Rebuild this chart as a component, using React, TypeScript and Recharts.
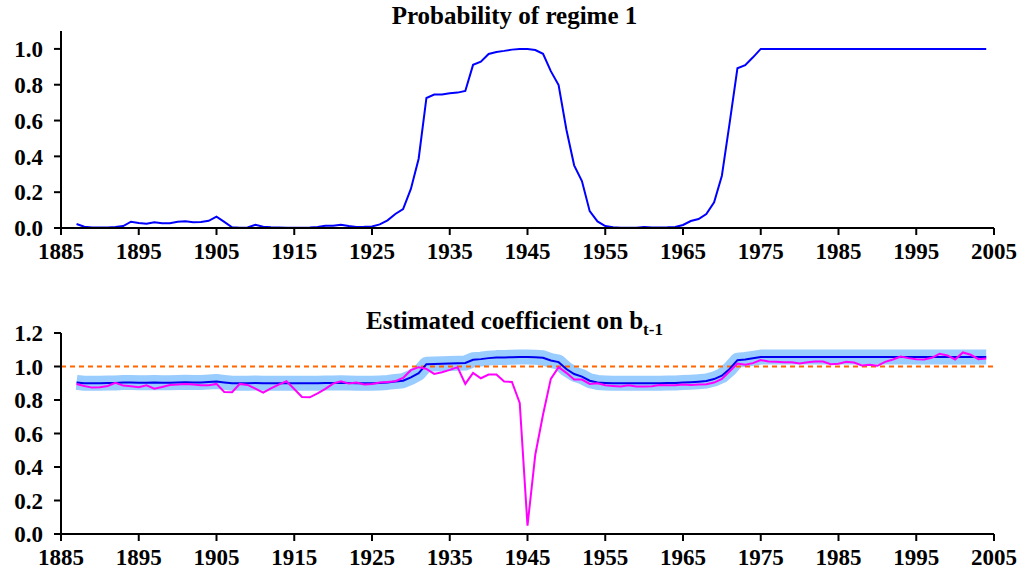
import React from "react";
import { LineChart, Line, XAxis, YAxis, ReferenceLine } from "recharts";

const FIRST_YEAR = 1887;

const YEAR_TICKS = [1885, 1895, 1905, 1915, 1925, 1935, 1945, 1955, 1965, 1975, 1985, 1995, 2005];
const PROB_TICKS = [0, 0.2, 0.4, 0.6, 0.8, 1.0];
const COEF_TICKS = [0, 0.2, 0.4, 0.6, 0.8, 1.0, 1.2];

// probability of regime 1, 1887-2004
const probRegime1 = [
  0.022, 0.007, 0.003, 0.003, 0.003, 0.005, 0.011, 0.035, 0.028, 0.024,
  0.032, 0.026, 0.026, 0.035, 0.037, 0.032, 0.034, 0.04, 0.063, 0.034,
  0.004, 0.002, 0.003, 0.018, 0.007, 0.004, 0.003, 0.002, 0.002, 0.002,
  0.003, 0.005, 0.013, 0.013, 0.018, 0.011, 0.006, 0.007, 0.009, 0.02,
  0.043, 0.078, 0.106, 0.218, 0.387, 0.726, 0.745, 0.745, 0.752, 0.756,
  0.765, 0.911, 0.929, 0.972, 0.983, 0.989, 0.996, 0.999, 0.999, 0.994,
  0.973, 0.876, 0.798, 0.55, 0.35, 0.262, 0.094, 0.037, 0.011, 0.004,
  0.002, 0.001, 0.002, 0.006, 0.003, 0.003, 0.004, 0.006, 0.017, 0.039,
  0.05, 0.078, 0.143, 0.292, 0.587, 0.892, 0.909, 0.953, 1.0, 1.0,
  1.0, 1.0, 1.0, 1.0, 1.0, 1.0, 1.0, 1.0, 1.0, 1.0,
  1.0, 1.0, 1.0, 1.0, 1.0, 1.0, 1.0, 1.0, 1.0, 1.0,
  1.0, 1.0, 1.0, 1.0, 1.0, 1.0, 1.0, 1.0,
];

// regime-weighted coefficient (blue line, drawn over the light band)
const coefSmoothed = [
  0.905, 0.9, 0.9, 0.9, 0.902, 0.902, 0.905, 0.905, 0.903, 0.903,
  0.905, 0.903, 0.903, 0.905, 0.906, 0.905, 0.905, 0.907, 0.91, 0.905,
  0.9, 0.9, 0.9, 0.902, 0.9, 0.9, 0.9, 0.9, 0.9, 0.9,
  0.9, 0.9, 0.902, 0.902, 0.903, 0.902, 0.9, 0.9, 0.9, 0.902,
  0.905, 0.91, 0.915, 0.935, 0.96, 1.014, 1.015, 1.016, 1.018, 1.02,
  1.021, 1.04, 1.044, 1.05, 1.053, 1.054, 1.055, 1.056, 1.056, 1.055,
  1.052, 1.036, 1.026, 0.985, 0.955, 0.94, 0.915, 0.905, 0.902, 0.9,
  0.9, 0.9, 0.9, 0.9, 0.9, 0.9, 0.901, 0.902, 0.904, 0.906,
  0.909, 0.913, 0.925, 0.945, 0.985, 1.038, 1.042, 1.049, 1.056, 1.056,
  1.056, 1.056, 1.056, 1.056, 1.056, 1.056, 1.056, 1.056, 1.056, 1.056,
  1.056, 1.056, 1.056, 1.056, 1.056, 1.056, 1.056, 1.056, 1.056, 1.056,
  1.056, 1.056, 1.056, 1.056, 1.056, 1.056, 1.056, 1.056,
];

// period-by-period estimate (magenta)
const coefPeriod = [
  0.896, 0.884, 0.874, 0.876, 0.884, 0.902, 0.886, 0.882, 0.876, 0.888,
  0.868, 0.878, 0.89, 0.892, 0.896, 0.892, 0.888, 0.888, 0.896, 0.848,
  0.846, 0.896, 0.89, 0.868, 0.844, 0.87, 0.892, 0.912, 0.866, 0.818,
  0.816, 0.84, 0.866, 0.898, 0.912, 0.898, 0.904, 0.892, 0.896, 0.904,
  0.908, 0.912, 0.932, 0.978, 0.996, 0.986, 0.956, 0.966, 0.98, 0.996,
  0.896, 0.962, 0.93, 0.952, 0.952, 0.91, 0.908, 0.782, 0.05, 0.473,
  0.713, 0.926, 0.996, 0.962, 0.922, 0.922, 0.896, 0.9, 0.888, 0.884,
  0.88, 0.888, 0.88, 0.88, 0.882, 0.89, 0.888, 0.888, 0.892, 0.89,
  0.892, 0.894, 0.904, 0.926, 0.972, 1.018, 1.01, 1.02, 1.038, 1.03,
  1.028, 1.026, 1.026, 1.018, 1.026, 1.03, 1.03, 1.014, 1.016, 1.028,
  1.024, 1.006, 1.01, 1.004, 1.028, 1.042, 1.06, 1.05, 1.044, 1.042,
  1.052, 1.076, 1.066, 1.042, 1.084, 1.07, 1.044, 1.048,
];

const rows = probRegime1.map((p, i) => ({
  year: FIRST_YEAR + i,
  prob: p,
  smooth: coefSmoothed[i],
  period: coefPeriod[i],
}));

const FONT = '"Liberation Serif", "Times New Roman", serif';
const tickStyle = { fontFamily: FONT, fontSize: 23, fontWeight: 700, fill: "#000" };
const axisLine = { stroke: "#000", strokeWidth: 2 };

const titleStyle: React.CSSProperties = {
  position: "absolute",
  left: 0,
  width: 1029,
  textAlign: "center",
  fontFamily: FONT,
  fontWeight: 700,
  fontSize: 25,
  lineHeight: "25px",
  color: "#000",
};

const fmt = (v: number) => v.toFixed(1);

const YearAxis = () => (
  <XAxis
    dataKey="year"
    type="number"
    domain={[1885, 2005]}
    ticks={YEAR_TICKS}
    tick={tickStyle}
    axisLine={axisLine}
    tickLine={axisLine}
    tickSize={7}
    tickMargin={8}
    height={40}
    interval={0}
  />
);

export default function App() {
  return (
    <div
      style={{
        position: "absolute",
        left: 0,
        top: 0,
        width: 1029,
        height: 576,
        background: "#fff",
        fontFamily: FONT,
      }}
    >
      <div style={{ ...titleStyle, top: 3 }}>Probability of regime 1</div>
      <div style={{ position: "absolute", left: 0, top: 0 }}>
        <LineChart width={1029} height={270} data={rows} margin={{ top: 31, right: 35, bottom: 2, left: 0 }}>
          {YearAxis()}
          <YAxis
            type="number"
            domain={[0, 1.1]}
            ticks={PROB_TICKS}
            tickFormatter={fmt}
            tick={tickStyle}
            axisLine={axisLine}
            tickLine={axisLine}
            tickSize={7}
            tickMargin={11}
            width={61}
          />
          <Line dataKey="prob" stroke="#0000ff" strokeWidth={2} dot={false} isAnimationActive={false} />
        </LineChart>
      </div>

      <div style={{ ...titleStyle, top: 308 }}>
        Estimated coefficient on b
        <sub style={{ fontSize: 17, verticalAlign: "-6px", lineHeight: 0 }}>t-1</sub>
      </div>
      <div style={{ position: "absolute", left: 0, top: 290 }}>
        <LineChart width={1029} height={286} data={rows} margin={{ top: 43, right: 35, bottom: 2, left: 0 }}>
          {YearAxis()}
          <YAxis
            type="number"
            domain={[0, 1.2]}
            ticks={COEF_TICKS}
            tickFormatter={fmt}
            tick={tickStyle}
            axisLine={axisLine}
            tickLine={axisLine}
            tickSize={7}
            tickMargin={11}
            width={61}
          />
          <Line
            dataKey="smooth"
            stroke="#99ccff"
            strokeWidth={15}
            strokeLinejoin="round"
            dot={false}
            activeDot={false}
            isAnimationActive={false}
          />
          <ReferenceLine y={1} stroke="#ff6600" strokeWidth={2} strokeDasharray="5 4" />
          <Line dataKey="smooth" stroke="#0000ee" strokeWidth={2} dot={false} isAnimationActive={false} />
          <Line dataKey="period" stroke="#ff00ff" strokeWidth={2} dot={false} isAnimationActive={false} />
        </LineChart>
      </div>
    </div>
  );
}
